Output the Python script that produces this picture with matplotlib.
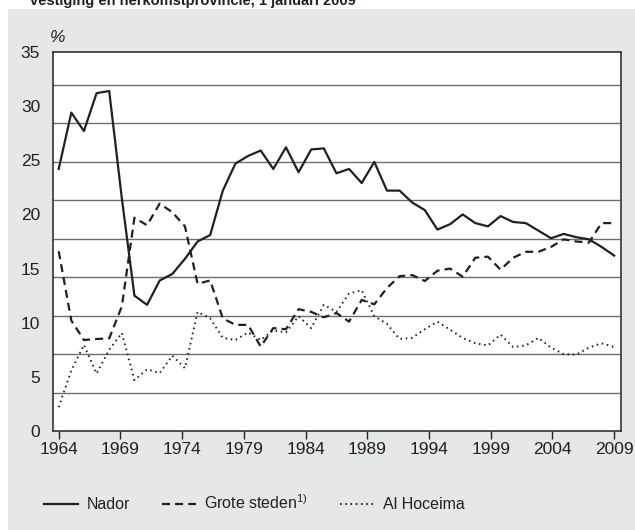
import matplotlib
matplotlib.use('Agg')
import matplotlib.pyplot as plt
from matplotlib.patches import Rectangle
import numpy as np

# 45 jaarwaarden (aandeel in %), x-as gelabeld 1964 .. 2009
tick_labels = ['1964', '1969', '1974', '1979', '1984', '1989', '1994', '1999', '2004', '2009']

nador = [24.2, 29.4, 27.7, 31.2, 31.4, 21.5, 12.5, 11.65, 13.9, 14.5,
         15.9, 17.5, 18.1, 22.2, 24.7, 25.4, 25.9, 24.2, 26.2, 23.9,
         26.0, 26.1, 23.8, 24.2, 22.9, 24.85, 22.2, 22.2, 21.1, 20.4,
         18.6, 19.1, 20.0, 19.2, 18.9, 19.85, 19.3, 19.2, 18.5, 17.8,
         18.2, 17.9, 17.7, 17.0, 16.2]

grote_steden = [16.6, 10.2, 8.4, 8.5, 8.55, 11.5, 19.7, 19.0, 21.0, 20.2,
                18.9, 13.6, 13.9, 10.4, 9.8, 9.8, 7.8, 9.5, 9.4, 11.25,
                11.0, 10.5, 10.9, 10.1, 12.1, 11.7, 13.2, 14.3, 14.4, 13.85,
                14.8, 15.0, 14.25, 16.0, 16.1, 14.9, 16.0, 16.55, 16.55, 17.0,
                17.7, 17.5, 17.4, 19.2, 19.2]

al_hoceima = [2.2, 5.6, 7.95, 5.3, 7.5, 9.05, 4.7, 5.7, 5.35, 6.95,
              5.8, 11.0, 10.4, 8.6, 8.4, 9.1, 8.4, 9.3, 9.1, 10.6,
              9.5, 11.65, 11.0, 12.7, 13.0, 10.6, 9.9, 8.5, 8.6, 9.4,
              10.1, 9.35, 8.6, 8.1, 7.9, 8.9, 7.75, 7.9, 8.6, 7.7,
              7.1, 7.05, 7.7, 8.1, 7.75]

W, H = 635, 530
bg = '#e6e7e8'
ink = '#231f20'

plt.rcParams['font.family'] = ['Liberation Sans', 'DejaVu Sans']
plt.rcParams['mathtext.fontset'] = 'custom'
plt.rcParams['mathtext.rm'] = 'Liberation Sans'
plt.rcParams['mathtext.default'] = 'regular'

fig = plt.figure(figsize=(W / 100, H / 100), dpi=100, facecolor='white')

# grijs paneel met witte strook bovenaan
fig.patches.append(Rectangle((8 / W, 0), 1, 1 - 9 / H, transform=fig.transFigure,
                             facecolor=bg, edgecolor='none', zorder=-10))
fig.text(30 / W, 1 - 5 / H, 'vestiging en herkomstprovincie, 1 januari 2009',
         fontsize=10.5, fontweight='bold', color=ink, va='baseline', ha='left')

ax = fig.add_axes([52.7 / W, 1 - 431 / H, (621 - 52.7) / W, (431 - 52) / H])
ax.set_facecolor('white')

x = np.arange(len(nador))
ax.plot(x, nador, color=ink, lw=1.6, zorder=3)
ax.plot(x, grote_steden, color=ink, lw=1.6, dashes=(3.6, 2.3), zorder=3)
ax.plot(x, al_hoceima, color=ink, lw=1.4, dashes=(0.8, 1.9), zorder=3)

for k in range(1, 10):
    ax.axhline(k * 3.55, color='#6d6e70', lw=1.0, zorder=1)

ax.set_xlim(-0.475, 44.54)
ax.set_ylim(0, 35)
ax.set_xticks(np.linspace(0, 44, 10))
ax.set_xticklabels(tick_labels)
ax.set_yticks(np.arange(0, 36, 5))
ax.tick_params(axis='x', direction='out', length=6, width=1, color=ink,
               labelsize=12.5, labelcolor=ink, pad=2)
ax.tick_params(axis='y', length=0, labelsize=12.5, labelcolor=ink, pad=9)
for s in ax.spines.values():
    s.set_color('#333333')
    s.set_linewidth(1.2)

fig.text(50 / W, 1 - 38 / H, '%', fontsize=12.5, style='italic', color=ink,
         va='center', ha='left')

handles = ax.get_lines()[:3]
fig.legend(handles, ['Nador', r'Grote steden$^{1)}$', 'Al Hoceima'],
           loc='center left', bbox_to_anchor=(30 / W, 1 - 503 / H), ncol=3,
           frameon=False, fontsize=11.5, handlelength=2.1, handletextpad=0.55,
           columnspacing=2.0, labelcolor=ink)

fig.savefig('out.png', dpi=100, facecolor=fig.get_facecolor())
